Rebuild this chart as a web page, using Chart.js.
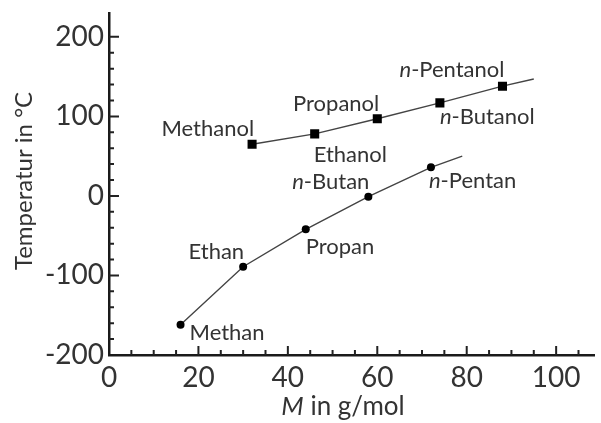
<!DOCTYPE html>
<html>
<head>
<meta charset="utf-8">
<script src="https://cdn.jsdelivr.net/npm/chart.js@4.4.1/dist/chart.umd.min.js"></script>
<style>
  body { margin: 0; background: #fff; }
</style>
</head>
<body>
<canvas id="grafico" width="601" height="423"></canvas>
<script>
// Alkane (letzter Wert = Ende der Ausgleichslinie, ohne Punkt)
const alkanNamen = ['Methan', 'Ethan', 'Propan', 'n-Butan', 'n-Pentan'];
const alkanMasse = [16, 30, 44, 58, 72, 79];
const alkanSiedepunkt = [-162, -89, -42, -1, 36, 50];

// Alkohole (letzter Wert = Ende der Ausgleichslinie, ohne Punkt)
const alkoholNamen = ['Methanol', 'Ethanol', 'Propanol', 'n-Butanol', 'n-Pentanol'];
const alkoholMasse = [32, 46, 60, 74, 88, 95];
const alkoholSiedepunkt = [65, 78, 97, 117, 138, 147];

// Achsen
const xTickWerte = [0, 20, 40, 60, 80, 100];
const yTickWerte = [-200, -100, 0, 100, 200];

// Lage der Beschriftungen: [Ausrichtung, dx, dy]
const alkanLage = [['left', 9, 8], ['right', 1, -15], ['left', 0, 18], ['right', 1, -15], ['left', -2, 14]];
const alkoholLage = [['right', 2, -15], ['left', -1, 21], ['right', 2, -15], ['left', 0, 14], ['right', 2, -16]];

const SCHRIFT = 'Lato, "Open Sans", sans-serif';
const TEXTFARBE = '#333';

function punkte(xs, ys) {
    return xs.map((x, i) => ({ x: x, y: ys[i] }));
}

// Text mit kursivem Anteil zeichnen (z.B. "n-Butan", "M in g/mol")
function zeichneText(ctx, kursiv, rest, x, y, align, groesse) {
    ctx.font = `italic ${groesse}px ${SCHRIFT}`;
    const b1 = kursiv ? ctx.measureText(kursiv).width : 0;
    ctx.font = `${groesse}px ${SCHRIFT}`;
    const b2 = ctx.measureText(rest).width;
    let start = x;
    if (align === 'right') start = x - b1 - b2;
    if (align === 'center') start = x - (b1 + b2) / 2;
    ctx.textAlign = 'left';
    ctx.textBaseline = 'middle';
    ctx.fillStyle = TEXTFARBE;
    if (kursiv) {
        ctx.font = `italic ${groesse}px ${SCHRIFT}`;
        ctx.fillText(kursiv, start, y);
    }
    ctx.font = `${groesse}px ${SCHRIFT}`;
    ctx.fillText(rest, start + b1, y);
}

const beschriftung = {
    id: 'beschriftung',
    afterDatasetsDraw(chart) {
        const ctx = chart.ctx;
        ctx.save();
        chart.data.datasets.forEach((ds, i) => {
            const meta = chart.getDatasetMeta(i);
            ds.namen.forEach((name, j) => {
                const pt = meta.data[j];
                const [align, dx, dy] = ds.lage[j];
                if (name.startsWith('n-')) {
                    zeichneText(ctx, 'n', name.slice(1), pt.x + dx, pt.y + dy, align, 22);
                } else {
                    zeichneText(ctx, '', name, pt.x + dx, pt.y + dy, align, 22);
                }
            });
        });
        ctx.restore();
    }
};

// Teilstriche nach innen und Achsentitel
const striche = {
    id: 'striche',
    afterDraw(chart) {
        const { ctx, chartArea } = chart;
        const xs = chart.scales.x;
        const ys = chart.scales.y;
        ctx.save();
        ctx.strokeStyle = '#222';
        ctx.lineWidth = 2;
        ctx.beginPath();
        for (let v = 5; v <= 105; v += 5) {
            const px = xs.getPixelForValue(v);
            const len = v % 20 === 0 ? 9 : 5;
            ctx.moveTo(px, chartArea.bottom);
            ctx.lineTo(px, chartArea.bottom - len);
        }
        for (let v = -180; v <= 200; v += 20) {
            const py = ys.getPixelForValue(v);
            const len = v % 100 === 0 ? 10 : 5;
            ctx.moveTo(chartArea.left, py);
            ctx.lineTo(chartArea.left + len, py);
        }
        ctx.stroke();

        // x-Achsentitel
        zeichneText(ctx, 'M', ' in g/mol', 343, 407, 'center', 26);

        // y-Achsentitel
        ctx.translate(24, 181);
        ctx.rotate(-Math.PI / 2);
        zeichneText(ctx, '', 'Temperatur in °C', 0, 0, 'center', 24);
        ctx.restore();
    }
};

new Chart(document.getElementById('grafico'), {
    type: 'scatter',
    data: {
        datasets: [
            {
                label: 'Alkane',
                data: punkte(alkanMasse, alkanSiedepunkt),
                namen: alkanNamen,
                lage: alkanLage,
                showLine: true,
                borderColor: '#444',
                borderWidth: 1.4,
                backgroundColor: '#000',
                pointStyle: 'circle',
                pointRadius: c => c.dataIndex < alkanNamen.length ? 4 : 0,
                pointBorderWidth: 0
            },
            {
                label: 'Alkohole',
                data: punkte(alkoholMasse, alkoholSiedepunkt),
                namen: alkoholNamen,
                lage: alkoholLage,
                showLine: true,
                borderColor: '#444',
                borderWidth: 1.4,
                backgroundColor: '#000',
                pointStyle: 'rect',
                pointRadius: c => c.dataIndex < alkoholNamen.length ? 6.4 : 0,
                pointBorderWidth: 0
            }
        ]
    },
    options: {
        responsive: false,
        animation: false,
        layout: { padding: { top: 13, right: 0, left: 0, bottom: 0 } },
        plugins: {
            legend: { display: false },
            tooltip: { enabled: false }
        },
        scales: {
            x: {
                type: 'linear',
                min: 0,
                max: 108.6,
                afterFit: s => { s.height = 68; },
                afterBuildTicks: s => { s.ticks = xTickWerte.map(v => ({ value: v })); },
                grid: { display: false, drawTicks: false },
                border: { display: true, color: '#1a1a1a', width: 2.5 },
                ticks: {
                    padding: 6,
                    color: TEXTFARBE,
                    font: { family: SCHRIFT, size: 28 }
                }
            },
            y: {
                type: 'linear',
                min: -200,
                max: 230,
                afterFit: s => { s.width = 109; },
                afterBuildTicks: s => { s.ticks = yTickWerte.map(v => ({ value: v })); },
                grid: { display: false, drawTicks: false },
                border: { display: true, color: '#1a1a1a', width: 2.5 },
                ticks: {
                    padding: 5,
                    color: TEXTFARBE,
                    font: { family: SCHRIFT, size: 28, lineHeight: 0.4 }
                }
            }
        }
    },
    plugins: [beschriftung, striche]
});
</script>
</body>
</html>
